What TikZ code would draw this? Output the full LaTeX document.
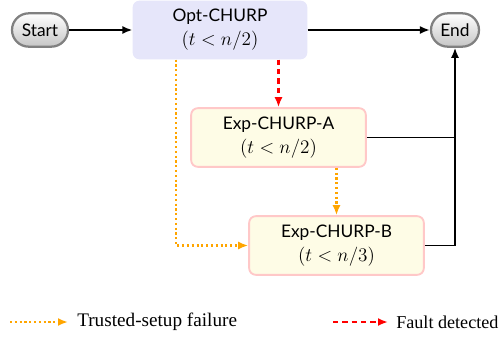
\documentclass[tikz,border=0pt]{standalone}
\usepackage{fontspec}
\setmainfont{Liberation Serif}
\setsansfont{Lato}
\usetikzlibrary{arrows.meta,positioning,shapes.misc}

\definecolor{optfill}{HTML}{E6E6FA}
\definecolor{expfill}{HTML}{FEFCE6}
\definecolor{expdraw}{HTML}{FFC8C8}
\definecolor{failorange}{HTML}{FFA500}

\tikzset{
  terminal/.style={rounded rectangle, draw=gray, line width=1.7pt,
    top color=white, bottom color=gray!45, minimum height=25pt,
    inner xsep=3pt, font=\sffamily\fontsize{13}{15}\selectfont},
  stage/.style={rectangle, rounded corners=5pt, align=center,
    minimum width=131pt, minimum height=44pt,
    font=\fontsize{14}{18}\selectfont},
  optbox/.style={stage, fill=optfill},
  expbox/.style={stage, fill=expfill, draw=expdraw, line width=1.4pt},
  flow/.style={-{Latex[length=7.5pt,width=6pt]}, line width=1.3pt},
  fault/.style={-{Latex[length=7.5pt,width=6pt]}, red, dash pattern=on 4pt off 3pt, line width=1.6pt},
  trust/.style={-{Latex[length=7.5pt,width=6pt]}, failorange, dotted, line width=1.6pt},
}

\begin{document}
\begin{tikzpicture}[x=0.75pt, y=-0.75pt]
  \useasboundingbox (0,0) rectangle (503,339);

  % main flow
  \node[terminal, minimum width=48pt] (start) at (40,30) {Start};
  \node[optbox] (opt) at (220,30) {{\sffamily\fontsize{13}{15}\selectfont Opt-CHURP}\\$(t<n/2)$};
  \node[terminal, minimum width=42pt] (end) at (455,30) {End};
  \node[expbox] (expa) at (278.5,137.5) {{\sffamily\fontsize{13}{15}\selectfont Exp-CHURP-A}\\$(t<n/2)$};
  \node[expbox] (expb) at (336.5,245.5) {{\sffamily\fontsize{13}{15}\selectfont Exp-CHURP-B}\\$(t<n/3)$};

  \draw[flow] (start) -- (opt);
  \draw[flow] (opt) -- (end);
  \draw[fault] (expa.north |- opt.south) -- (expa.north);
  \draw[trust] ([xshift=-33pt]opt.south) |- (expb.west);
  \draw[trust] (expb.north |- expa.south) -- (expb.north);
  \draw[line width=1.3pt] (expa.east) -- (end.south |- expa.east);
  \draw[flow] (expb.east) -| (end.south);

  % legend
  \coordinate (trustfrom) at (10,322);
  \coordinate (trustto) at (68,322);
  \coordinate (faultfrom) at (333,322);
  \coordinate (faultto) at (388,322);
  \draw[trust] (trustfrom) -- (trustto);
  \node[anchor=west, inner sep=0pt, font=\fontsize{14.4}{16}\selectfont] (trustlbl) at (77,322) {Trusted-setup failure};
  \draw[fault] (faultfrom) -- (faultto);
  \node[anchor=west, inner sep=0pt, font=\fontsize{13.6}{16}\selectfont] (faultlbl) at (396,322) {Fault detected};
\end{tikzpicture}
\end{document}
